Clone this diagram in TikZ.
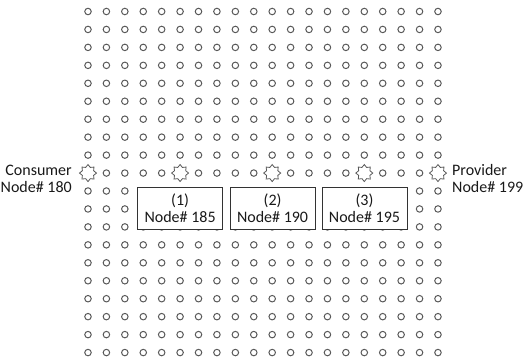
\documentclass[tikz,border=0pt]{standalone}
\usepackage{fontspec}
\setmainfont{Carlito}
\usetikzlibrary{shapes.geometric,positioning}

\begin{document}
\begin{tikzpicture}[x=18.42pt, y=-17.95pt,
    every node/.style={font=\fontsize{16}{17}\selectfont, text=black!90},
    dot/.style={circle, draw=black!65, line width=1pt, minimum size=6.5pt, inner sep=0pt},
    burst/.style={star, star points=8, star point ratio=1.4, draw=black!65, line width=0.8pt, minimum size=17pt, inner sep=0pt},
    nodebox/.style={draw=black!80, fill=white, line width=0.9pt, minimum width=85pt, minimum height=42pt, align=center}]
    \useasboundingbox (-4.777,-0.641) rectangle (23.67,19.47);

    % Grid of nodes
    \foreach \r in {0,...,19} {
      \foreach \c in {0,...,19} {
        \pgfmathtruncatemacro\isstar{and(\r==9, or(mod(\c,5)==0, \c==19))}
        \ifnum\isstar=0
          \node[dot] (d-\r-\c) at (\c,\r) {};
        \fi
      }
    }

    % Path nodes
    \node[burst] (s180) at (0,9) {};
    \node[burst] (s185) at (5,9) {};
    \node[burst] (s190) at (10,9) {};
    \node[burst] (s195) at (15,9) {};
    \node[burst] (s199) at (19,9) {};

    % Boxes
    \node[nodebox] (n185) at (5,10.95) {(1)\\Node\# 185};
    \node[nodebox] (n190) at (10.02,10.95) {(2)\\Node\# 190};
    \node[nodebox] (n195) at (15.01,10.95) {(3)\\Node\# 195};

    % Ends
    \node[anchor=east, align=right, inner sep=0pt] (consumer) at (-0.87,9.3) {Consumer\\Node\# 180};
    \node[anchor=west, align=left, inner sep=0pt] (provider) at (19.76,9.3) {Provider\\Node\# 199};
\end{tikzpicture}
\end{document}
